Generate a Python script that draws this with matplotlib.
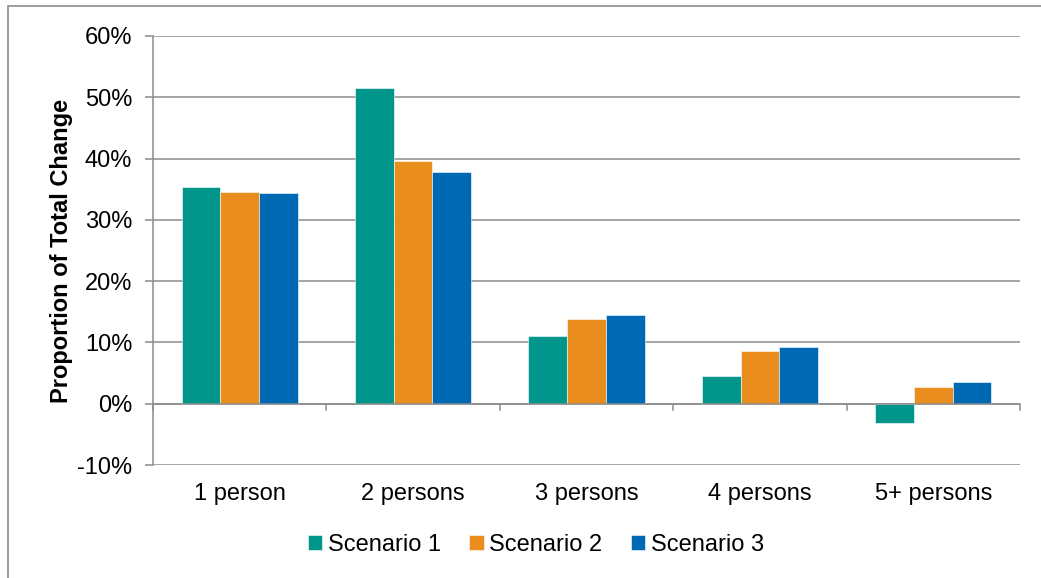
import numpy as np
import matplotlib.pyplot as plt
from matplotlib.patches import Rectangle
from matplotlib.ticker import PercentFormatter

plt.rcParams["font.family"] = ["Liberation Sans", "DejaVu Sans"]
plt.rcParams["axes.unicode_minus"] = False

categories = ["1 person", "2 persons", "3 persons", "4 persons", "5+ persons"]
scenario_1 = [35.4, 51.5, 11.1, 4.6, -3.1]
scenario_2 = [34.6, 39.6, 13.9, 8.6, 2.8]
scenario_3 = [34.4, 37.8, 14.4, 9.3, 3.6]
series_names = ["Scenario 1", "Scenario 2", "Scenario 3"]
colors = ["#00968C", "#E88D1E", "#0069B4"]

fig = plt.figure(figsize=(10.41, 5.78), dpi=100)
ax = fig.add_axes([153 / 1041, 1 - 465 / 578, (1020 - 153) / 1041, (465 - 36) / 578])

# outer chart border (runs off the right/bottom edges)
fig.patches.append(Rectangle((8 / 1041, -0.05), 1.2, 1 - 6 / 578 + 0.05,
                             transform=fig.transFigure, fill=False,
                             edgecolor="#8c8c8c", linewidth=1.2))

x = np.arange(len(categories))
w = 0.223
for i, (vals, name, c) in enumerate(zip([scenario_1, scenario_2, scenario_3], series_names, colors)):
    ax.bar(x + (i - 1) * w, vals, width=w, color=c, label=name,
           edgecolor="#ffffff", linewidth=0.4, zorder=3)

ax.set_xlim(-0.5, len(categories) - 0.5)
ax.set_ylim(-10, 60)
ax.set_yticks(np.arange(-10, 61, 10))
ax.yaxis.set_major_formatter(PercentFormatter(decimals=0))
ax.grid(axis="y", color="#8c8c8c", linewidth=1.1, zorder=0)

for s in ["top", "right", "bottom"]:
    ax.spines[s].set_visible(False)
ax.spines["left"].set_color("#8c8c8c")
ax.spines["left"].set_linewidth(1.1)
ax.tick_params(axis="y", length=6, color="#8c8c8c", width=1.1, labelsize=17, pad=9)
ax.tick_params(axis="x", length=0, labelsize=17, pad=13)
ax.set_xticks(x)
ax.set_xticklabels(categories)

# zero axis line with category separator ticks
ax.axhline(0, color="#8c8c8c", linewidth=1.1, zorder=4)
for b in np.arange(-0.5, len(categories), 1.0):
    ax.plot([b, b], [0, -1.0], color="#8c8c8c", linewidth=1.1, zorder=4, clip_on=False)

ax.set_ylabel("Proportion of Total Change", fontsize=17, fontweight="bold", labelpad=3)

ax.legend(loc="center", bbox_to_anchor=(536 / 1041, 1 - 545 / 578),
          bbox_transform=fig.transFigure, ncol=3, frameon=False, fontsize=17,
          handlelength=0.6, handleheight=0.6, handletextpad=0.25, columnspacing=1.2)

fig.savefig("out.png", dpi=100)
